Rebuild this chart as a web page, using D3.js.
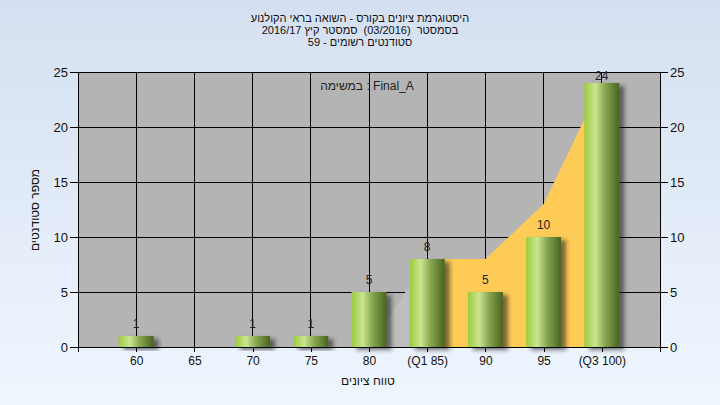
<!DOCTYPE html>
<html><head><meta charset="utf-8">
<script src="https://cdn.jsdelivr.net/npm/d3@7"></script>
<style>
html,body{margin:0;padding:0;}
svg{display:block;font-family:"Liberation Sans",Arial,sans-serif;}
</style></head>
<body>
<svg id="c" width="720" height="405"></svg>
<script>
const categories = ["60","65","70","75","80","(Q1 85)","90","95","(Q3 100)"];
const counts = [1,0,1,1,5,8,5,10,24];
const belowQ1Area = [null,null,null,null,0,8,null,null,null];
const interQuartileArea = [null,null,null,null,null,8,8,13,24];
const yTicks = [0,5,10,15,20,25];
const titleLines = ["היסטוגרמת ציונים בקורס - השואה בראי הקולנוע","בסמסטר  (03/2016)  סמסטר קיץ 2016/17","סטודנטים רשומים - 59"];
const taskLabel = "במשימה : Final_A";
const yTitle = "מספר סטודנטים";
const xTitle = "טווח ציונים";

const svg = d3.select("#c");
const W = 720, H = 405;
const L = 78, R = 660, T = 72, B = 347;

const defs = svg.append("defs");
const bg = defs.append("linearGradient").attr("id","bg").attr("x1",0).attr("y1",0).attr("x2",0).attr("y2",1);
bg.append("stop").attr("offset","0%").attr("stop-color","#d4e0f1");
bg.append("stop").attr("offset","100%").attr("stop-color","#eff6fe");
const bar = defs.append("linearGradient").attr("id","bar").attr("x1",0).attr("y1",0).attr("x2",1).attr("y2",0);
bar.append("stop").attr("offset","0%").attr("stop-color","#9ccb3e");
bar.append("stop").attr("offset","32%").attr("stop-color","#cbe490");
bar.append("stop").attr("offset","60%").attr("stop-color","#86a650");
bar.append("stop").attr("offset","100%").attr("stop-color","#4a6320");
const f = defs.append("filter").attr("id","sh").attr("x","-30%").attr("y","-30%").attr("width","180%").attr("height","160%");
f.append("feDropShadow").attr("dx",5).attr("dy",3).attr("stdDeviation",2.2).attr("flood-color","#222").attr("flood-opacity",0.6);

svg.append("rect").attr("width",W).attr("height",H).attr("fill","url(#bg)");

const x = d3.scaleLinear().domain([0, categories.length + 1]).range([L, R]);
const y = d3.scaleLinear().domain([0, 25]).range([B, T]);
const cx = i => x(i + 1);

svg.append("rect").attr("x",L).attr("y",T).attr("width",R-L).attr("height",B-T).attr("fill","#b4b4b4");

// gridlines
const g = svg.append("g").attr("stroke","#000").attr("stroke-width",1).attr("shape-rendering","crispEdges");
yTicks.filter(v => v > 0).forEach(v => g.append("line").attr("x1",L).attr("x2",R).attr("y1",y(v)).attr("y2",y(v)));
categories.forEach((c,i) => g.append("line").attr("x1",cx(i)).attr("x2",cx(i)).attr("y1",T).attr("y2",B));

// areas
const area = d3.area().defined(d => d.v != null).x(d => cx(d.i)).y0(y(0)).y1(d => y(d.v));
svg.append("path").datum(belowQ1Area.map((v,i)=>({v,i}))).attr("d",area).attr("fill","#bebebe");
svg.append("path").datum(interQuartileArea.map((v,i)=>({v,i}))).attr("d",area).attr("fill","#fecb57");

// bars
const bw = 35;
svg.append("g").selectAll("rect").data(counts.map((v,i)=>({v,i})).filter(d=>d.v>0)).join("rect")
  .attr("x", d => cx(d.i) - bw/2).attr("y", d => y(d.v)).attr("width", bw).attr("height", d => y(0) - y(d.v))
  .attr("fill","url(#bar)").attr("filter","url(#sh)");

// value labels
svg.append("g").selectAll("text").data(counts.map((v,i)=>({v,i})).filter(d=>d.v>0)).join("text")
  .attr("x", d => cx(d.i)).attr("y", d => Math.max(y(d.v) - 8, T + 8)).attr("text-anchor","middle")
  .attr("font-size",12).attr("fill","#222").text(d => d.v);

// axes
const ax = svg.append("g").attr("stroke","#000").attr("shape-rendering","crispEdges");
ax.append("line").attr("x1",L).attr("x2",L).attr("y1",T).attr("y2",B+5);
ax.append("line").attr("x1",R).attr("x2",R).attr("y1",T).attr("y2",B+5);
ax.append("line").attr("x1",L).attr("x2",R).attr("y1",B).attr("y2",B);
svg.append("g").attr("transform",`translate(${L},0)`).call(d3.axisLeft(y).tickValues(yTicks).tickSize(8).tickPadding(2))
  .call(s => { s.select(".domain").remove(); s.selectAll("text").attr("font-size",13).attr("fill","#111").attr("font-family","Liberation Sans, Arial"); s.selectAll("line").attr("shape-rendering","crispEdges"); });
svg.append("g").attr("transform",`translate(${R},0)`).call(d3.axisRight(y).tickValues(yTicks).tickSize(8).tickPadding(2))
  .call(s => { s.select(".domain").remove(); s.selectAll("text").attr("font-size",13).attr("fill","#111").attr("font-family","Liberation Sans, Arial"); s.selectAll("line").attr("shape-rendering","crispEdges"); });
const xa = d3.axisBottom(x).tickValues(categories.map((c,i)=>i+1)).tickFormat(v => categories[v-1]).tickSize(5).tickPadding(4);
svg.append("g").attr("transform",`translate(0,${B})`).call(xa)
  .call(s => { s.select(".domain").remove(); s.selectAll("text").attr("font-size",12).attr("fill","#111").attr("font-family","Liberation Sans, Arial"); s.selectAll("line").attr("shape-rendering","crispEdges"); });

// titles
const tt = svg.append("g").attr("font-size",11).attr("fill","#111").attr("text-anchor","middle");
titleLines.forEach((t,k) => tt.append("text").attr("x",360).attr("y",22 + k*12).attr("direction","rtl").attr("unicode-bidi","embed").attr("text-anchor","middle").style("white-space","pre").text(t));
svg.append("text").attr("x",367).attr("y",90).attr("text-anchor","middle").attr("font-size",12).attr("fill","#222").attr("direction","ltr").text(taskLabel);
svg.append("text").attr("transform","translate(39,210) rotate(-90)").attr("text-anchor","middle").attr("font-size",12).attr("fill","#111").attr("direction","rtl").text(yTitle);
svg.append("text").attr("x",368).attr("y",385).attr("text-anchor","middle").attr("font-size",12).attr("fill","#111").attr("direction","rtl").text(xTitle);
</script>
</body></html>
